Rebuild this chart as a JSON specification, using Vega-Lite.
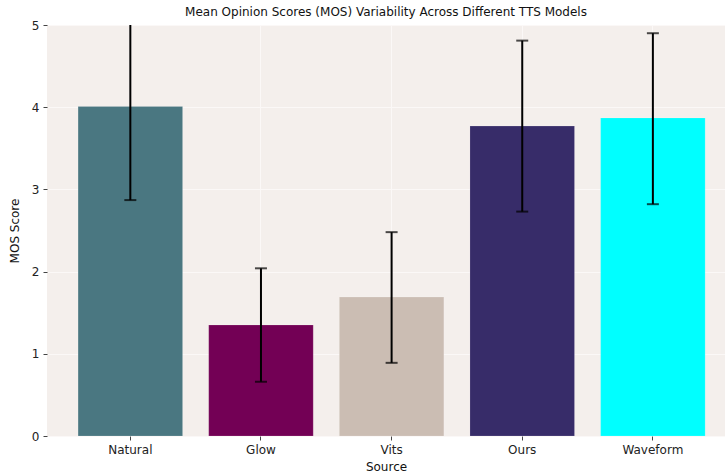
{
  "$schema": "https://vega.github.io/schema/vega-lite/v6.json",
  "width": 678,
  "height": 411,
  "autosize": {"type": "none"},
  "padding": {"left": 47, "top": 25, "right": 0, "bottom": 40},
  "background": "white",
  "config": {
    "font": "DejaVu Sans",
    "view": {"fill": "#f4efec", "stroke": null},
    "axis": {"labelFontSize": 12, "titleFontSize": 12, "labelColor": "#222", "titleColor": "#111", "titleFontWeight": "normal", "domain": false, "tickColor": "#444", "tickSize": 4, "gridColor": "#fbf8f7", "gridWidth": 1}
  },
  "title": {"text": "Mean Opinion Scores (MOS) Variability Across Different TTS Models", "fontSize": 12, "fontWeight": "normal", "color": "#111", "offset": 0, "font": "DejaVu Sans"},
  "data": {"values": [
    {"source": "Natural", "mos": 4.01, "lo": 2.87, "hi": 5.15},
    {"source": "Glow", "mos": 1.35, "lo": 0.66, "hi": 2.04},
    {"source": "Vits", "mos": 1.69, "lo": 0.89, "hi": 2.48},
    {"source": "Ours", "mos": 3.77, "lo": 2.73, "hi": 4.81},
    {"source": "Waveform", "mos": 3.87, "lo": 2.82, "hi": 4.9}
  ]},
  "encoding": {
    "x": {"field": "source", "type": "nominal", "sort": null, "title": "Source",
      "scale": {"paddingInner": 0.2, "paddingOuter": 0.195, "align": 0.61},
      "axis": {"labelAngle": 0, "bandPosition": 0.5, "grid": true, "titlePadding": 6, "labelPadding": 4}}
  },
  "layer": [
    {
      "mark": {"type": "bar", "stroke": "#ffffff", "strokeOpacity": 0.3, "strokeWidth": 0.5},
      "encoding": {
        "y": {"field": "mos", "type": "quantitative", "title": "MOS Score",
          "scale": {"domain": [0, 5], "nice": false},
          "axis": {"values": [0, 1, 2, 3, 4, 5], "tickCount": 6, "titlePadding": 10, "labelPadding": 4}},
        "color": {"field": "source", "type": "nominal", "sort": null, "legend": null,
          "scale": {"domain": ["Natural", "Glow", "Vits", "Ours", "Waveform"], "range": ["#4a7781", "#730055", "#cbbdb3", "#372c69", "#00ffff"]}}
      }
    },
    {
      "mark": {"type": "rule", "color": "black", "strokeWidth": 2, "clip": true},
      "encoding": {
        "y": {"field": "lo", "type": "quantitative"},
        "y2": {"field": "hi"}
      }
    },
    {
      "mark": {"type": "tick", "color": "black", "thickness": 2, "size": 12, "clip": true},
      "encoding": {"y": {"field": "lo", "type": "quantitative"}}
    },
    {
      "mark": {"type": "tick", "color": "black", "thickness": 2, "size": 12, "clip": true},
      "encoding": {"y": {"field": "hi", "type": "quantitative"}}
    }
  ]
}
